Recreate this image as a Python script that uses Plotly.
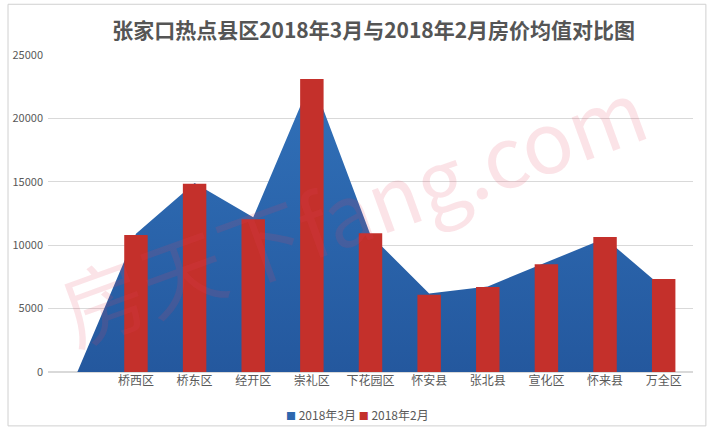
import plotly.graph_objects as go

categories = [" ", "桥西区", "桥东区", "经开区", "崇礼区", "下花园区", "怀安县", "张北县", "宣化区", "怀来县", "万全区"]
mar_2018 = [0, 10900, 14900, 12200, 23100, 10800, 6200, 6750, 8650, 10550, 6600]
feb_2018 = [None, 10800, 14850, 12050, 23100, 10950, 6100, 6700, 8500, 10650, 7330]
y_ticks = [0, 5000, 10000, 15000, 20000, 25000]
series_names = ["2018年3月", "2018年2月"]

FONT = "Noto Sans CJK SC"
BLUE = "#2d67ae"
RED = "#c4302b"

fig = go.Figure()
fig.add_trace(go.Scatter(
    x=categories, y=mar_2018, name=series_names[0], mode="lines",
    line=dict(width=0, color=BLUE), showlegend=False,
    fill="tozeroy",
    fillgradient=dict(type="vertical", colorscale=[[0, "#24589e"], [1, "#3171b9"]]),
    xaxis="x", yaxis="y",
))
fig.add_trace(go.Bar(
    x=categories, y=feb_2018, name=series_names[1], showlegend=False,
    marker=dict(color=RED, line=dict(width=0)),
    xaxis="x", yaxis="y2",
))

legend_text = (f"<span style='color:{BLUE};font-size:10px'>■</span> {series_names[0]} "
               f"<span style='color:{RED};font-size:10px'>■</span> {series_names[1]}")

fig.update_layout(
    width=709, height=435,
    margin=dict(l=48, r=16, t=55, b=63),
    paper_bgcolor="white", plot_bgcolor="white",
    bargap=0.6,
    font=dict(family=FONT, color="#595959", size=11),
    title=dict(text="<b>张家口热点县区2018年3月与2018年2月房价均值对比图</b>",
               x=0.527, xanchor="center", y=0.93, yanchor="middle",
               font=dict(size=21, color="#555555", family=FONT)),
    xaxis=dict(type="category", showgrid=False, showline=False, ticks="",
               tickfont=dict(size=12, color="#595959"), range=[-0.5, 10.5]),
    yaxis=dict(range=[0, 25000], tickvals=y_ticks, tickformat="d", showgrid=True, gridcolor="#d9d9d9",
               gridwidth=1, zeroline=True, zerolinecolor="#d9d9d9", ticks="",
               tickfont=dict(size=11, color="#595959"), ticklabelstandoff=4),
    yaxis2=dict(range=[0, 25000], overlaying="y", visible=False, showgrid=False),
    showlegend=False,
    shapes=[dict(type="rect", xref="paper", yref="paper", x0=-0.062, x1=1.02, y0=-0.17, y1=1.16,
                 line=dict(color="#d0d0d0", width=1))],
    annotations=[
        dict(text="房天下fang.com", xref="paper", yref="paper", x=0.47, y=0.52,
             showarrow=False, textangle=-20,
             font=dict(size=84, color="rgba(225,70,95,0.15)", family=FONT)),
        dict(text=legend_text, xref="paper", yref="paper", x=0.48, y=-0.135,
             xanchor="center", yanchor="middle", showarrow=False,
             font=dict(size=12, color="#595959", family=FONT)),
    ],
)

fig.write_html("out.html")
